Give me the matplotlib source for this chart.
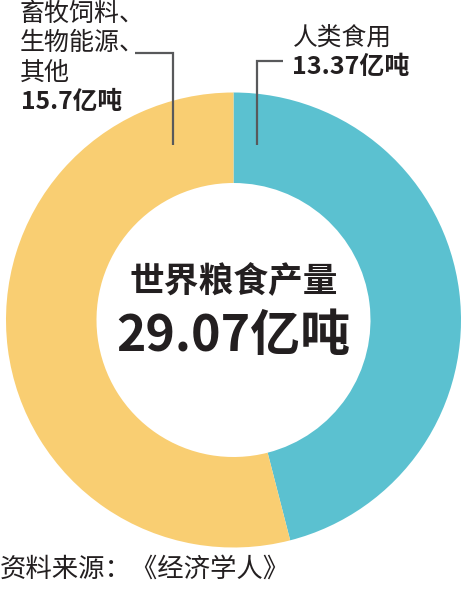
import matplotlib
matplotlib.use("Agg")
import matplotlib.pyplot as plt

plt.rcParams['font.family'] = ['Noto Sans CJK SC', 'DejaVu Sans']

# Data
categories = ["人类食用", "畜牧饲料、\n生物能源、\n其他"]
values = [13.37, 15.7]
value_labels = ["13.37亿吨", "15.7亿吨"]
total_title = "世界粮食产量"
total_label = "29.07亿吨"
source = "资料来源：《经济学人》"

colors = ["#5BC1D0", "#F9CE72"]
text_color = "#231F20"
line_color = "#58595B"

W, H = 464, 600
fig = plt.figure(figsize=(W / 100, H / 100), dpi=100)
ax = fig.add_axes([0, 0, 1, 1])

cx, cy = 233.5, H - 320
r_out, r_in = 227.5, 137

ax.pie(values, colors=colors, startangle=90, counterclock=False,
       radius=r_out, center=(cx, cy),
       wedgeprops=dict(width=r_out - r_in, linewidth=0), frame=False)

ax.set_xlim(0, W)
ax.set_ylim(0, H)
ax.set_aspect('equal')
ax.axis('off')

def py(y):
    return H - y

# leader lines
ax.plot([283, 257, 257], [py(61), py(61), py(145)], color=line_color, lw=1.6,
        solid_capstyle='butt', solid_joinstyle='miter')
ax.plot([135, 173, 173], [py(53), py(53), py(145)], color=line_color, lw=1.6,
        solid_capstyle='butt', solid_joinstyle='miter')

# left label
left_lines = categories[1].split("\n")
for i, t in enumerate(left_lines):
    ax.text(20, py(14 + 29.3 * i), t, fontsize=18, color=text_color,
            ha='left', va='center', fontweight='medium')
ax.text(21, py(102), value_labels[1], fontsize=17.8, color=text_color,
        ha='left', va='center', fontweight='bold')

# right label
ax.text(293, py(38), categories[0], fontsize=17.8, color=text_color,
        ha='left', va='center', fontweight='medium')
ax.text(292, py(67), value_labels[0], fontsize=18, color=text_color,
        ha='left', va='center', fontweight='bold')

# center text
ax.text(cx, py(282), total_title, fontsize=25, color=text_color,
        ha='center', va='center', fontweight='heavy')
ax.text(cx, py(336), total_label, fontsize=36, color=text_color,
        ha='center', va='center', fontweight='heavy')

# source
ax.text(0, py(569), source, fontsize=19, color=text_color,
        ha='left', va='center')

fig.savefig("out.png", dpi=100)
